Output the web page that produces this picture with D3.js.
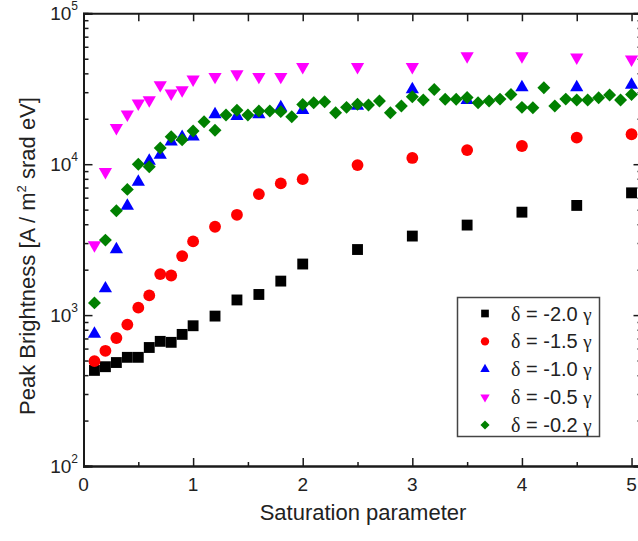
<!DOCTYPE html>
<html>
<head>
<meta charset="utf-8">
<script src="https://cdn.jsdelivr.net/npm/d3@7"></script>
<style>
  body { margin: 0; background: #fff; }
  svg { display: block; font-family: Arial, "Liberation Sans", sans-serif; }
</style>
</head>
<body>
<div id="chart"></div>
<script>
// x positions (saturation parameter)
const xsCoarse = [0.1, 0.2, 0.3, 0.4, 0.5, 0.6, 0.7, 0.8, 0.9, 1.0, 1.2, 1.4, 1.6, 1.8, 2.0, 2.5, 3.0, 3.5, 4.0, 4.5, 5.0];
const xsFine = [0.1, 0.2, 0.3, 0.4, 0.5, 0.6, 0.7, 0.8, 0.9, 1.0,
  1.1, 1.2, 1.3, 1.4, 1.5, 1.6, 1.7, 1.8, 1.9, 2.0,
  2.1, 2.2, 2.3, 2.4, 2.5, 2.6, 2.7, 2.8, 2.9, 3.0,
  3.1, 3.2, 3.3, 3.4, 3.5, 3.6, 3.7, 3.8, 3.9, 4.0,
  4.1, 4.2, 4.3, 4.4, 4.5, 4.6, 4.7, 4.8, 4.9, 5.0];

// peak brightness values
const d20 = [430, 455, 485, 525, 525, 610, 670, 660, 745, 850, 985, 1260, 1370, 1680, 2180, 2720, 3340, 3950, 4810, 5330, 6460];
const d15 = [495, 580, 705, 865, 1120, 1350, 1870, 1830, 2460, 3080, 3850, 4620, 6340, 7460, 7960, 9860, 11000, 12400, 13200, 15000, 15800];
const d10 = [750, 1500, 2720, 5300, 7640, 10500, 11500, 14100, 15100, 15200, 21400, 20800, 21400, 23800, 22800, 24300, 31300, 26600, 32300, 32300, 33500];
const d05 = [2910, 8900, 17400, 21400, 25300, 26600, 33500, 29500, 31000, 36500, 38000, 39600, 38000, 38000, 44200, 44200, 44200, 52100, 52100, 51100, 49500];
const d02 = [1205, 3140, 4910, 6810, 10000, 9620, 12800, 15200, 14500, 16600,
  19100, 16800, 21200, 22800, 21200, 22500, 22500, 22300, 20600, 24900,
  25500, 25900, 21900, 23800, 25000, 24700, 26200, 21900, 24300, 28000,
  26600, 31300, 26900, 26900, 27700, 25500, 26200, 27000, 29000, 23800,
  23700, 32100, 24300, 27000, 26600, 26600, 27600, 28700, 26600, 29000];

const seriesLabels = ['-2.0', '-1.5', '-1.0', '-0.5', '-0.2'];
const xTicks = [0, 1, 2, 3, 4, 5];
const yTicks = [100, 1000, 10000, 100000];

const width = 638;
const height = 541;

const x = d3.scaleLinear().domain([0, 5.1]).range([83.5, 642.5]);
const y = d3.scaleLog().domain([100, 100000]).range([466, 13.3]);

const series = [
  { xs: xsCoarse, ys: d20, color: '#000000', shape: 'square' },
  { xs: xsCoarse, ys: d15, color: '#ff0000', shape: 'circle' },
  { xs: xsCoarse, ys: d10, color: '#0000ff', shape: 'up' },
  { xs: xsCoarse, ys: d05, color: '#ff00ff', shape: 'down' },
  { xs: xsFine, ys: d02, color: '#008000', shape: 'diamond' }
];

function symbolPath(shape, k) {
  if (shape === 'square') return d3.symbol(d3.symbolSquare, 118 * k)();
  if (shape === 'circle') return d3.symbol(d3.symbolCircle, 110 * k)();
  if (shape === 'up' || shape === 'down') return d3.symbol(d3.symbolTriangle, 76 * k)();
  return d3.symbol(d3.symbolSquare, 84 * k)();
}
function symbolRotate(shape) {
  if (shape === 'down') return ' rotate(180)';
  if (shape === 'diamond') return ' rotate(45)';
  return '';
}

const svg = d3.create('svg')
  .attr('width', width)
  .attr('height', height);

svg.append('rect').attr('width', width).attr('height', height).attr('fill', '#fff');

const axisColor = '#1a1a1a';

// data
series.forEach(s => {
  svg.append('g')
    .selectAll('path')
    .data(s.xs.map((v, i) => [v, s.ys[i]]))
    .join('path')
    .attr('d', symbolPath(s.shape, 1))
    .attr('transform', d => `translate(${x(d[0])},${y(d[1])})` + symbolRotate(s.shape))
    .attr('fill', s.color);
});

// bottom axis
const axBottom = svg.append('g').attr('transform', `translate(0,${y(100)})`)
  .call(d3.axisBottom(x).tickValues(xTicks).tickSize(-8).tickFormat(''));
const axBottomMinor = svg.append('g').attr('transform', `translate(0,${y(100)})`)
  .call(d3.axisBottom(x).tickValues([0.5, 1.5, 2.5, 3.5, 4.5]).tickSize(-4).tickFormat(''));
// top axis
const axTop = svg.append('g').attr('transform', `translate(0,${y(100000)})`)
  .call(d3.axisTop(x).tickValues([0, 0.5, 1, 1.5, 2, 2.5, 3, 3.5, 4, 4.5, 5]).tickSize(-8).tickFormat(''));

// left / right axes with minor ticks
const minorY = [];
[100, 1000, 10000].forEach(dec => { for (let m = 2; m <= 9; m++) minorY.push(dec * m); });
const axLeft = svg.append('g').attr('transform', `translate(${x(0)},0)`)
  .call(d3.axisLeft(y).tickValues(yTicks).tickSize(-9).tickFormat(''));
const axLeftMinor = svg.append('g').attr('transform', `translate(${x(0)},0)`)
  .call(d3.axisLeft(y).tickValues(minorY).tickSize(-5).tickFormat(''));
const axRight = svg.append('g').attr('transform', `translate(${x(5.1)},0)`)
  .call(d3.axisRight(y).tickValues(yTicks).tickSize(-9).tickFormat(''));
const axRightMinor = svg.append('g').attr('transform', `translate(${x(5.1)},0)`)
  .call(d3.axisRight(y).tickValues(minorY).tickSize(-5).tickFormat(''));

[axBottom, axBottomMinor, axTop, axLeft, axLeftMinor, axRight, axRightMinor].forEach(g => {
  g.selectAll('.domain').attr('stroke', axisColor).attr('stroke-width', 2);
  g.selectAll('.tick line').attr('stroke', axisColor).attr('stroke-width', 1.5);
});

// x tick labels
svg.append('g').selectAll('text')
  .data(xTicks)
  .join('text')
  .attr('x', d => x(d))
  .attr('y', 491)
  .attr('text-anchor', 'middle')
  .attr('font-size', 19)
  .attr('fill', '#222')
  .text(d => d);

// y tick labels as powers of ten
const yLab = svg.append('g').selectAll('text')
  .data(yTicks)
  .join('text')
  .attr('x', 78)
  .attr('y', d => y(d) + 7)
  .attr('text-anchor', 'end')
  .attr('font-size', 19)
  .attr('fill', '#222');
yLab.append('tspan').text('10');
yLab.append('tspan').attr('dy', -10).attr('font-size', 12).text(d => Math.round(Math.log10(d)));

// axis titles
svg.append('text')
  .attr('x', 363)
  .attr('y', 520)
  .attr('text-anchor', 'middle')
  .attr('font-size', 22)
  .attr('fill', '#222')
  .text('Saturation parameter');

const yt = svg.append('text')
  .attr('transform', 'translate(35,256) rotate(-90)')
  .attr('text-anchor', 'middle')
  .attr('font-size', 22)
  .attr('fill', '#222');
yt.append('tspan').text('Peak Brightness [A / m');
yt.append('tspan').attr('dy', -9).attr('font-size', 13).text('2');
yt.append('tspan').attr('dy', 9).text(' srad eV]');

// legend
const legend = svg.append('g');
legend.append('rect')
  .attr('x', 457.5).attr('y', 297.5)
  .attr('width', 142).attr('height', 139)
  .attr('fill', '#fff')
  .attr('stroke', '#444')
  .attr('stroke-width', 1.5);

const rowY = d3.scalePoint().domain(seriesLabels).range([313.5, 425]);
series.forEach((s, i) => {
  const lbl = seriesLabels[i];
  legend.append('path')
    .attr('d', symbolPath(s.shape, 0.5))
    .attr('transform', `translate(485,${rowY(lbl)})` + symbolRotate(s.shape))
    .attr('fill', s.color);
  const t = legend.append('text')
    .attr('x', 511)
    .attr('y', rowY(lbl) + 7)
    .attr('font-size', 20)
    .attr('fill', '#222');
  t.append('tspan').attr('font-family', '"Liberation Serif", "DejaVu Serif", serif').text('\u03b4');
  t.append('tspan').text(' = ' + lbl + ' ');
  t.append('tspan').attr('font-family', '"Liberation Serif", "DejaVu Serif", serif').attr('font-size', 19).text('\u03b3');
});

document.getElementById('chart').appendChild(svg.node());
</script>
</body>
</html>
